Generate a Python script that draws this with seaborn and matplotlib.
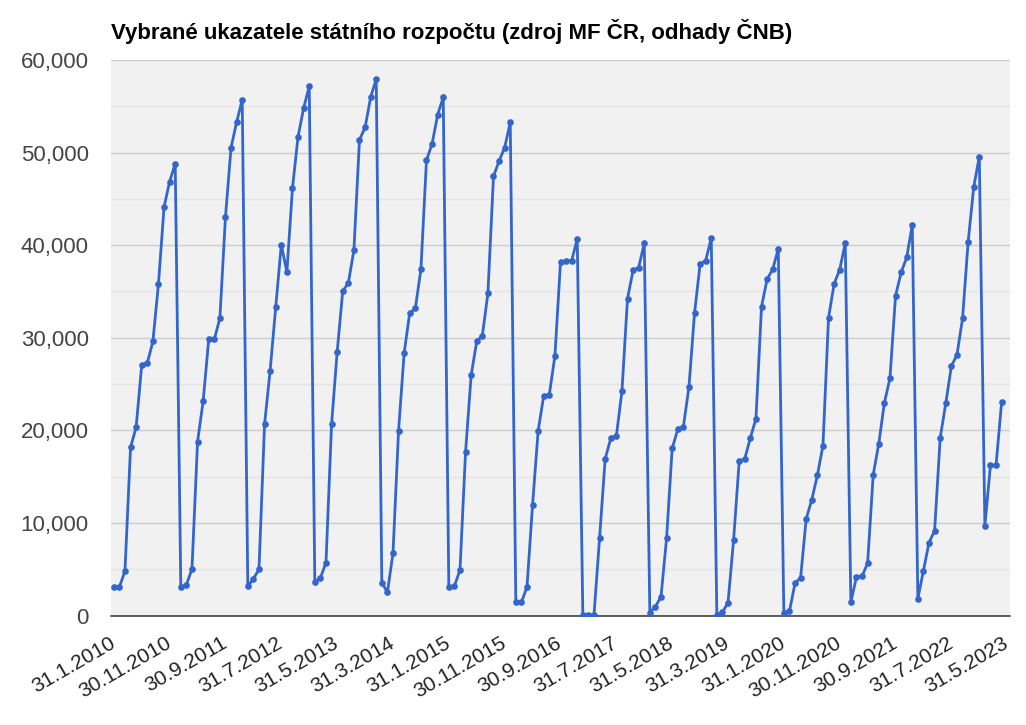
import numpy as np
import pandas as pd
import seaborn as sns
import matplotlib.pyplot as plt
from matplotlib.ticker import MultipleLocator, FuncFormatter

TITLE = 'Vybrané ukazatele státního rozpočtu (zdroj MF ČR, odhady ČNB)'

# monthly values, Jan..Dec
y2010 = [3030, 3070, 4800, 18160, 20330, 27040, 27260, 29600, 35810, 44110, 46860, 48810]
y2011 = [3070, 3320, 5010, 18770, 23140, 29820, 29820, 32130, 43070, 50540, 53300, 55700]
y2012 = [3140, 3970, 4980, 20650, 26460, 33320, 40040, 37110, 46170, 51730, 54800, 57160]
y2013 = [3620, 4050, 5700, 20650, 28440, 35050, 35910, 39450, 51380, 52710, 55980, 57940]
y2014 = [3540, 2510, 6720, 19980, 28360, 32680, 33160, 37400, 49170, 50940, 54080, 55980]
y2015 = [3110, 3180, 4920, 17700, 25960, 29620, 30210, 34810, 47440, 49090, 50540, 53260]
y2016 = [1420, 1420, 3090, 11980, 19960, 23750, 23870, 28050, 38150, 38310, 38340, 40660]
y2017 = [50, 80, 80, 8400, 16920, 19120, 19390, 24200, 34230, 37280, 37580, 40200]
y2018 = [280, 960, 2030, 8370, 18050, 20100, 20370, 24660, 32640, 37960, 38340, 40780]
y2019 = [50, 350, 1390, 8170, 16650, 16940, 19180, 21240, 33360, 36320, 37400, 39600]
y2020 = [300, 450, 3480, 4090, 10440, 12500, 15130, 18350, 32160, 35810, 37370, 40220]
y2021 = [1440, 4150, 4220, 5670, 15200, 18560, 22960, 25630, 34520, 37050, 38670, 42200]
y2022 = [1830, 4840, 7870, 9170, 19200, 22930, 26930, 28150, 32080, 40340, 46250, 49570]
y2023 = [9700, 16230, 16230, 23050, np.nan]

values = (y2010 + y2011 + y2012 + y2013 + y2014 + y2015 + y2016 + y2017
          + y2018 + y2019 + y2020 + y2021 + y2022 + y2023)

# category labels: month-end dates 31.1.2010 .. 31.5.2023
dates = pd.date_range('2010-01-31', periods=len(values), freq='ME')
labels = [f'{d.day}.{d.month}.{d.year}' for d in dates]

df = pd.DataFrame({'pos': np.arange(len(values)), 'value': values})

sns.set_style('white')
plt.rcParams['font.family'] = ['Liberation Sans', 'DejaVu Sans']

fig = plt.figure(figsize=(10.26, 7.25), dpi=100)
ax = fig.add_axes([111 / 1026, 1 - 615.5 / 725, 899 / 1026, 555.5 / 725])
ax.set_facecolor('#f1f1f1')

sns.lineplot(x='pos', y='value', data=df, ax=ax, color='#3366cc',
             linewidth=2.0, marker='o', markersize=4.8,
             markeredgewidth=0, zorder=3)

ax.set_xlim(-0.5, len(values) - 0.5)
ax.set_ylim(0, 60000)

ax.yaxis.set_major_locator(MultipleLocator(10000))
ax.yaxis.set_minor_locator(MultipleLocator(5000))
ax.yaxis.set_major_formatter(FuncFormatter(lambda v, p: f'{int(v):,}'))
ax.grid(axis='y', which='major', color='#cccccc', linewidth=1.0, zorder=0)
ax.grid(axis='y', which='minor', color='#e4e4e4', linewidth=1.0, zorder=0)
ax.grid(axis='x', visible=False)

tick_pos = list(range(0, len(values), 10))
ax.set_xticks(tick_pos)
ax.set_xticklabels([labels[i] for i in tick_pos], rotation=30, ha='right',
                   va='center', rotation_mode='anchor', fontsize=15,
                   color='#222222')
ax.tick_params(axis='x', length=0, pad=19)
ax.tick_params(axis='y', which='both', length=0, pad=16, labelsize=16,
               labelcolor='#444444')

for side in ['left', 'right', 'top']:
    ax.spines[side].set_visible(False)
ax.spines['bottom'].set_color('#333333')
ax.spines['bottom'].set_linewidth(1.1)
ax.set_xlabel('')
ax.set_ylabel('')

fig.text(111 / 1026, 1 - 32 / 725, TITLE, fontsize=16, fontweight='bold',
         color='#000000', ha='left', va='center')

fig.savefig('out.png', dpi=100)
